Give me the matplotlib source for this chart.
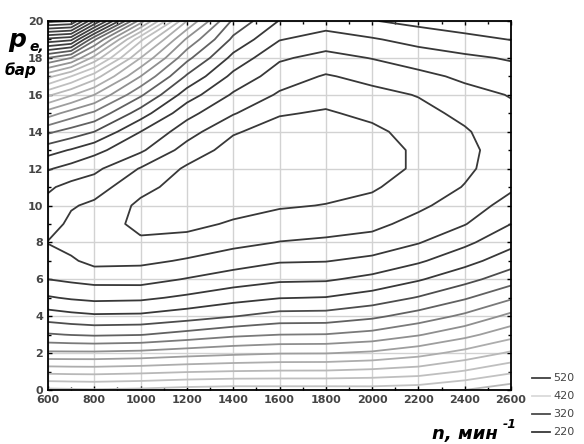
import numpy as np
import matplotlib.pyplot as plt
from matplotlib.lines import Line2D

# частота вращения, мин^-1 и среднее эффективное давление, бар
n_rpm = [600, 700, 800, 1000, 1200, 1400, 1600, 1800, 2000, 2200, 2400, 2600]
p_bar = list(range(0, 21))

# удельный расход топлива g_e, г/кВт*ч; одна строка = одна частота (p = 0..20)
ge_cols = [
    [342, 317, 292, 271, 255, 241, 230, 226, 219.5, 225, 227, 231.5, 241, 254, 272, 295, 322, 353, 390, 437, 493],
    [341.5, 316.5, 292, 269.6, 253, 238.8, 228.2, 221.4, 216.5, 217.5, 221, 227, 236.4, 249.2, 265.8, 285.6, 311.2, 340, 380, 432.5, 490],
    [341, 316.3, 292, 268.7, 251.6, 237.4, 226.7, 217, 215, 216, 218, 224.5, 232.4, 243.1, 260, 278, 300, 325, 356.7, 392, 450],
    [342, 317.5, 293.1, 269.6, 252, 238, 226.3, 217.8, 211.8, 207, 208, 212.8, 219.3, 231.7, 240, 255, 271.7, 290, 310, 332.5, 375],
    [344, 319.3, 295.7, 273.6, 255.5, 241.9, 230.6, 221, 213.9, 207, 205, 206, 208.5, 215.8, 224.4, 233.3, 245, 258.6, 272.9, 288.3, 310],
    [345, 320.5, 297.8, 277.8, 259.6, 246.3, 235, 225.2, 217.3, 211.3, 206, 204, 204, 206, 211, 220.8, 228.7, 237.3, 247, 257.8, 268],
    [344.8, 321.1, 299.4, 280, 263.8, 249.6, 238.3, 229.1, 220.3, 214.3, 209, 205.5, 203.5, 203.5, 206, 210.8, 218.7, 224.9, 231.4, 240.5, 249.5],
    [344.8, 321.2, 299.6, 280.4, 264.1, 250.4, 238.8, 229.6, 221.6, 215.7, 210.3, 207, 205, 205, 206.5, 209, 213.4, 219.1, 226.8, 235.5, 245],
    [344.3, 322.7, 301.7, 283.3, 267.9, 254.4, 242.8, 232.5, 223.8, 217.3, 212.4, 209, 206, 206, 208, 212.2, 217.1, 223, 230.4, 239, 249.5],
    [345.6, 325, 306.4, 289.2, 274.3, 260.7, 249, 238.6, 229.4, 223.5, 218, 214, 211.5, 211.5, 213.5, 217, 220.5, 227.3, 234.8, 243.5, 253],
    [350, 330.9, 313.3, 296.9, 282.1, 268.8, 256.7, 246.5, 237.8, 229.5, 225, 220.5, 218, 217.5, 219, 222.3, 226.8, 231.9, 238.1, 247, 256],
    [356, 338.2, 321.5, 306.4, 292.7, 278.6, 265.6, 255.5, 247.1, 240, 233.6, 228.5, 226, 225, 226, 228, 230.5, 235.5, 241, 250.3, 258],
]
ge = np.array(ge_cols).T

levels = list(range(210, 500, 10))
level_grays = [0.22, 0.22, 0.22, 0.22, 0.22, 0.30, 0.38, 0.48, 0.56, 0.62,
               0.68, 0.72, 0.75, 0.76, 0.72, 0.66, 0.58, 0.50, 0.42, 0.35,
               0.25, 0.25, 0.25, 0.25, 0.25, 0.25, 0.25, 0.25, 0.25]
level_colors = [str(g) for g in level_grays]

legend_values = ['520', '420', '320', '220']
legend_colors = ['#404040', '#dadada', '#4a4a4a', '#383838']

fig = plt.figure(figsize=(5.84, 4.44), dpi=100)
ax = fig.add_axes([48 / 584, 54 / 444, 463 / 584, 369 / 444])

ax.contour(n_rpm, p_bar, ge, levels=levels, colors=level_colors, linewidths=1.3)

ax.set_xlim(600, 2600)
ax.set_ylim(0, 20)
ax.set_xticks(range(600, 2601, 200))
ax.set_yticks(range(0, 21, 2))
ax.set_xticks(range(600, 2601, 100), minor=True)
ax.set_yticks(range(0, 21, 1), minor=True)
ax.grid(which='major', color='#d2d2d2', linewidth=1.0)
ax.set_axisbelow(True)
ax.tick_params(which='both', direction='in', top=True, right=True, color='black')
ax.tick_params(which='major', length=3, width=1)
ax.tick_params(which='minor', length=2, width=1)
for lab in ax.get_xticklabels() + ax.get_yticklabels():
    lab.set_fontweight('bold')
    lab.set_fontsize(8)
    lab.set_color('#444444')
for s in ax.spines.values():
    s.set_linewidth(1.3)

# подписи осей
fig.text(8 / 584, 1 - 47 / 444, 'p', fontsize=18, style='italic', weight='bold', va='baseline')
fig.text(29 / 584, 1 - 51 / 444, 'e,', fontsize=10, style='italic', weight='bold', va='baseline')
fig.text(5 / 584, 1 - 75 / 444, 'бар', fontsize=11, style='italic', weight='bold', va='baseline')
fig.text(432 / 584, 1 - 439 / 444, 'n, мин', fontsize=13, style='italic', weight='bold', va='baseline')
fig.text(503 / 584, 1 - 428 / 444, '-1', fontsize=9, style='italic', weight='bold', va='baseline')

# легенда
for i, (val, col) in enumerate(zip(legend_values, legend_colors)):
    y = 1 - (378 + i * 18) / 444
    fig.add_artist(Line2D([532 / 584, 550 / 584], [y, y], color=col, linewidth=1.3))
    fig.text(553 / 584, y, val, fontsize=8, color='#444444', va='center')

fig.savefig('out.png', dpi=100)
